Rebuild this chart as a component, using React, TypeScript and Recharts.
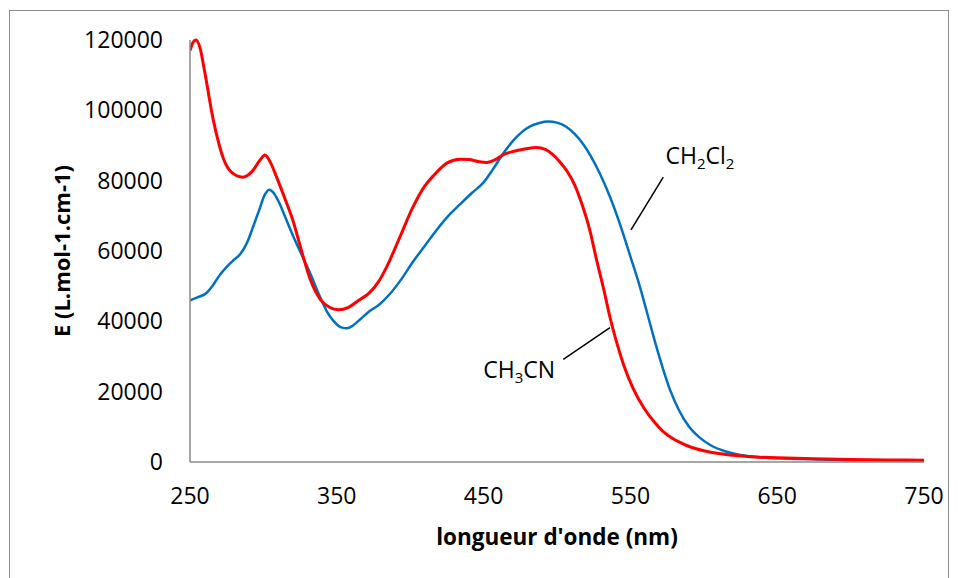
import React from 'react';
import { LineChart, Line, XAxis, YAxis, ReferenceLine, ReferenceDot } from 'recharts';

const ch3cnNm = [250, 252, 254, 257, 260, 266, 270, 273, 278, 286, 292, 298, 301, 305, 309, 315, 320, 326, 332, 339, 345, 351, 358, 365, 372, 378, 384, 392, 402, 410, 416, 425, 434, 440, 447, 452, 458, 463, 470, 478, 486, 492, 497, 502, 507, 512, 516, 522, 527, 532, 536, 541, 545, 552, 559, 566, 572, 578, 583, 590, 600, 610, 620, 635, 650, 675, 700, 725, 750];
const ch3cnE = [117000, 119300, 120000, 117500, 111000, 97000, 90000, 86000, 82500, 81000, 82500, 86000, 87300, 85000, 81000, 74500, 68800, 60000, 51800, 46100, 44000, 43300, 44000, 46000, 48000, 51000, 55500, 63000, 72600, 78500, 81500, 85000, 86100, 86000, 85400, 85200, 86000, 87300, 88300, 89000, 89400, 88900, 87500, 85300, 82600, 78800, 74500, 66500, 57400, 48800, 41300, 33500, 28100, 20800, 15500, 11500, 8800, 6900, 5700, 4400, 3200, 2400, 1900, 1400, 1200, 900, 700, 600, 500];

const ch2cl2Nm = [250, 255, 261, 266, 270, 275, 280, 284, 289, 293, 297, 301, 304, 307, 311, 315, 320, 326, 332, 338, 343, 348, 353, 357, 361, 366, 372, 379, 386, 394, 402, 410, 418, 426, 434, 442, 450, 456, 463, 470, 476, 482, 488, 494, 500, 506, 512, 518, 523, 529, 536, 543, 550, 556, 561, 566, 572, 577, 583, 590, 597, 605, 615, 625, 640, 655, 680, 700, 725, 750];
const ch2cl2E = [46000, 46800, 48000, 50500, 53000, 55500, 57500, 59000, 62500, 66900, 71500, 76000, 77400, 76500, 73500, 69500, 64500, 59000, 53500, 47500, 43000, 40000, 38300, 38000, 38800, 40600, 42800, 44800, 47700, 52000, 57000, 61500, 66000, 70000, 73300, 76500, 79500, 83000, 87500, 91300, 93800, 95500, 96400, 96800, 96500, 95400, 93300, 90300, 87000, 82200, 75500, 67500, 58400, 50500, 43000, 35300, 26800, 20500, 14800, 10000, 7000, 4700, 3000, 2000, 1300, 1000, 700, 500, 400, 300];

const xTicks = [250, 350, 450, 550, 650, 750];
const yTicks = [0, 20000, 40000, 60000, 80000, 100000, 120000];

const xTitle = "longueur d'onde (nm)";
const yTitle = 'E (L.mol-1.cm-1)';

// annotation anchors (data coordinates)
const ch2cl2LabelPos = { nm: 573.9, e: 84700 };
const ch2cl2Leader = [{ nm: 572.4, e: 81000 }, { nm: 550.4, e: 66000 }];
const ch3cnLabelPos = { nm: 449.8, e: 23800 };
const ch3cnLeader = [{ nm: 504.3, e: 29200 }, { nm: 536.1, e: 38200 }];

const ch3cnData = ch3cnNm.map((nm, i) => ({ nm, e: ch3cnE[i] }));
const ch2cl2Data = ch2cl2Nm.map((nm, i) => ({ nm, e: ch2cl2E[i] }));

const FONT = '"Open Sans", sans-serif';
const AXIS = '#898989';

const Formula = (parts: [string, string][]) => (props: any) => {
  const vb = props.viewBox || {};
  const x = vb.x ?? props.x;
  const y = vb.y ?? props.y;
  const kids: any[] = [];
  parts.forEach(([t, kind], i) => {
    if (kind === 'sub') {
      kids.push(<tspan key={i} fontSize={15} dy={5}>{t}</tspan>);
    } else {
      kids.push(<tspan key={i} fontSize={23} dy={i > 0 && parts[i - 1][1] === 'sub' ? -5 : 0}>{t}</tspan>);
    }
  });
  return (
    <text x={x} y={y} fontFamily={FONT} fill="#000" textAnchor="start">
      {kids}
    </text>
  );
};

const YTitle = (props: any) => {
  const vb = props.viewBox;
  const cx = vb.x + 61;
  const cy = vb.y + vb.height / 2;
  return (
    <text x={cx} y={cy} transform={`rotate(-90, ${cx}, ${cy})`} textAnchor="middle" dominantBaseline="central"
      fontFamily={FONT} fontWeight="bold" fontSize={22} fill="#000">{yTitle}</text>
  );
};

const XTitle = (props: any) => {
  const vb = props.viewBox;
  const cx = vb.x + vb.width / 2;
  const y = vb.y + 83;
  return (
    <text x={cx} y={y} textAnchor="middle" fontFamily={FONT} fontWeight="bold" fontSize={22.5} fill="#000">{xTitle}</text>
  );
};

export default function App() {
  return (
    <div>
      <div style={{ position: 'absolute', left: 9, top: 10, width: 940, height: 620, border: '1px solid #8c8c8c', boxSizing: 'border-box' }} />
      <div style={{ position: 'absolute', left: 0, top: 0 }}>
        <LineChart width={958} height={578} margin={{ top: 40, right: 34, bottom: 0, left: 0 }}>
          <XAxis
            type="number"
            dataKey="nm"
            domain={[250, 750]}
            ticks={xTicks}
            allowDataOverflow
            height={116}
            tickLine={false}
            tickSize={0}
            tickMargin={26}
            axisLine={{ stroke: AXIS, strokeWidth: 1.5 }}
            tick={{ fontFamily: FONT, fontSize: 23, fill: '#000' }}
            label={{ content: XTitle }}
          />
          <YAxis
            type="number"
            domain={[0, 120000]}
            ticks={yTicks}
            width={190}
            tickLine={false}
            tickSize={0}
            tickMargin={27}
            axisLine={{ stroke: AXIS, strokeWidth: 1.5 }}
            tick={{ fontFamily: FONT, fontSize: 23, fill: '#000' }}
            label={{ content: YTitle }}
          />
          <Line data={ch2cl2Data} dataKey="e" type="monotone" stroke="#0070C0" strokeWidth={2.5} dot={false} isAnimationActive={false} />
          <Line data={ch3cnData} dataKey="e" type="monotone" stroke="#FF0000" strokeWidth={3} dot={false} isAnimationActive={false} />
          <ReferenceLine segment={[{ x: ch2cl2Leader[0].nm, y: ch2cl2Leader[0].e }, { x: ch2cl2Leader[1].nm, y: ch2cl2Leader[1].e }]} stroke="#000" strokeWidth={1.5} />
          <ReferenceLine segment={[{ x: ch3cnLeader[0].nm, y: ch3cnLeader[0].e }, { x: ch3cnLeader[1].nm, y: ch3cnLeader[1].e }]} stroke="#000" strokeWidth={1.5} />
          <ReferenceDot x={ch2cl2LabelPos.nm} y={ch2cl2LabelPos.e} r={0} fill="none" stroke="none"
            label={{ content: Formula([['CH', 'n'], ['2', 'sub'], ['Cl', 'n'], ['2', 'sub']]) }} />
          <ReferenceDot x={ch3cnLabelPos.nm} y={ch3cnLabelPos.e} r={0} fill="none" stroke="none"
            label={{ content: Formula([['CH', 'n'], ['3', 'sub'], ['CN', 'n']]) }} />
        </LineChart>
      </div>
    </div>
  );
}
